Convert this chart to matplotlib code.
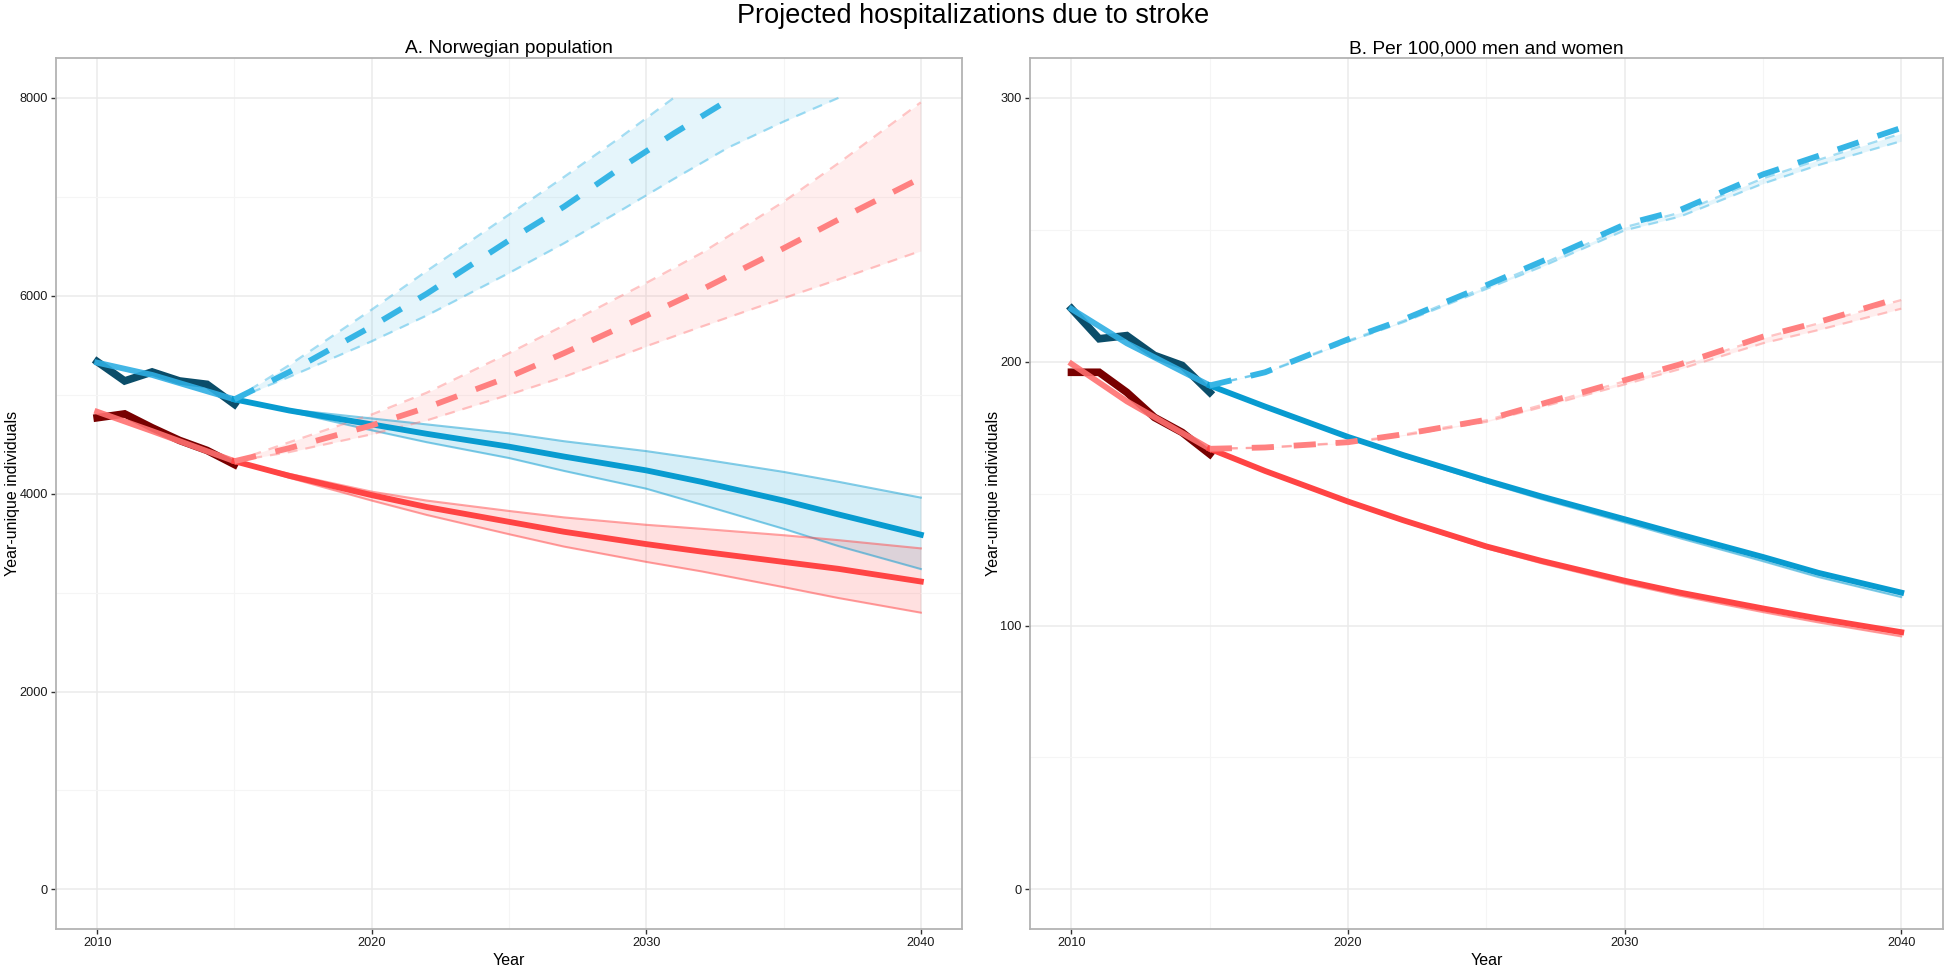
import numpy as np
import matplotlib
matplotlib.use("Agg")
import matplotlib.pyplot as plt

plt.rcParams["font.family"] = ["Liberation Sans", "DejaVu Sans"]
nan = np.nan

# observed 2010-2015
obs_years = [2010, 2011, 2012, 2013, 2014, 2015]
a_obs_men = [5334, 5139, 5230, 5139, 5105, 4903]
a_obs_women = [4767, 4806, 4666, 4538, 4437, 4295]
b_obs_men = [220.1, 208.7, 209.9, 202.4, 198.6, 188.4]
b_obs_women = [196.0, 196.0, 188.4, 178.9, 173.2, 165.0]

# fitted 2010-2015
fit_years = [2010, 2012, 2015]
a_men_fit = [5324, 5200, 4953]
a_women_fit = [4828, 4632, 4328]
b_men_fit = [220, 207, 191]
b_women_fit = [199.2, 185, 167]

# projections
proj_years = [2015, 2017, 2020, 2022, 2025, 2027, 2030, 2032, 2035, 2037, 2040]
a_men_solid = [4953, 4840, 4700, 4605, 4475, 4375, 4235, 4120, 3930, 3790, 3585]
a_men_solid_hi = [4953, 4850, 4760, 4700, 4610, 4530, 4430, 4350, 4220, 4120, 3960]
a_men_solid_lo = [4953, 4830, 4640, 4520, 4360, 4230, 4050, 3890, 3645, 3470, 3238]
a_women_solid = [4328, 4180, 3985, 3865, 3715, 3615, 3490, 3415, 3310, 3240, 3112]
a_women_solid_hi = [4328, 4200, 4020, 3930, 3825, 3760, 3685, 3645, 3580, 3530, 3447]
a_women_solid_lo = [4328, 4160, 3930, 3785, 3590, 3465, 3310, 3215, 3055, 2945, 2797]
a_women_dash = [4328, 4460, 4690, 4870, 5180, 5420, 5800, 6060, 6480, 6770, 7190]
a_women_dash_hi = [4328, 4520, 4800, 5020, 5420, 5700, 6130, 6430, 6950, 7340, 7955]
a_women_dash_lo = [4328, 4420, 4600, 4740, 5000, 5180, 5490, 5687, 5975, 6165, 6453]

# men, demographic scenario (cut at 8000)
a_dash_years = [2015, 2017, 2020, 2022, 2025, 2027, 2029, 2031, 2033, 2035, 2037]
a_men_dash = [4953, 5230, 5690, 6020, 6560, 6900, 7280, 7640, 7980, nan, nan]
a_men_dash_hi = [4953, 5300, 5860, 6250, 6820, 7200, 7590, 8000, nan, nan, nan]
a_men_dash_lo = [4953, 5180, 5540, 5800, 6230, 6530, 6850, 7180, 7500, 7760, 8000]

b_men_solid = [191, 183, 171.5, 164.6, 155, 148.9, 140.3, 134.5, 126, 120, 112.5]
b_men_solid_hi = [191, 183, 171.5, 164.6, 155, 148.9, 140.3, 134.5, 126.2, 120.3, 112.9]
b_men_solid_lo = [191, 182.8, 171.1, 164, 154.2, 147.9, 139.1, 133.1, 124.4, 118.4, 110.8]
b_women_solid = [167, 158.6, 147, 139.9, 130, 124.5, 117, 112.5, 106.5, 102.7, 97.5]
b_women_solid_hi = [167, 158.6, 147, 139.9, 130, 124.5, 117, 112.5, 106.6, 102.9, 97.8]
b_women_solid_lo = [167, 158.4, 146.6, 139.4, 129.3, 123.6, 115.9, 111.3, 105.1, 101.2, 95.9]
b_men_dash = [191, 196, 208.5, 216, 229, 238, 252, 257.5, 271, 278, 288.6]
b_men_dash_hi = [191, 196, 208, 215.5, 228.5, 237, 251, 256.5, 269.5, 276.5, 286.5]
b_men_dash_lo = [191, 195.8, 207.6, 215, 227.6, 236, 249.8, 255, 267.5, 274.5, 283.6]
b_women_dash = [167, 167.5, 169.5, 172.5, 178, 184, 193, 199, 209.5, 215, 224.4]
b_women_dash_hi = [167, 167.5, 169.4, 172.4, 177.8, 183.6, 192.6, 198.5, 209, 214.5, 223.4]
b_women_dash_lo = [167, 167.4, 169.2, 172, 177.2, 182.8, 191.4, 197.2, 207, 212, 220.1]

c_men, c_men_fit, c_men_dash, c_men_obs = "#089bd0", "#2eaee3", "#36b5e5", "#0b4d69"
c_wom, c_wom_fit, c_wom_dash, c_wom_obs = "#ff4444", "#ff7070", "#ff8080", "#780000"

LW = 4.2
dash_big = (3.8, 3.4)
dash_small = (4.5, 3.6)


def band_solid(ax, x, mid, hi, lo, col):
    ax.fill_between(x, lo, hi, color=col, alpha=0.165, lw=0)
    ax.plot(x, hi, color=col, alpha=0.5, lw=1.5)
    ax.plot(x, lo, color=col, alpha=0.5, lw=1.5)


def band_dash(ax, x, mid, hi, lo, col, cap=None):
    hi_f = np.array(hi, dtype=float)
    lo_f = np.array(lo, dtype=float)
    if cap is not None:
        hi_f = np.nan_to_num(hi_f, nan=cap)
        lo_f = np.nan_to_num(lo_f, nan=cap)
    ax.fill_between(x, lo_f, hi_f, color=col, alpha=0.13, lw=0)
    ax.plot(x, hi, color=col, alpha=0.45, lw=1.6, dashes=dash_small)
    ax.plot(x, lo, color=col, alpha=0.45, lw=1.6, dashes=dash_small)


def style(ax, ymaj, ymin, ylim, title):
    ax.set_xlim(2008.5, 2041.5)
    ax.set_ylim(*ylim)
    ax.set_xticks([2010, 2020, 2030, 2040])
    ax.set_xticks([2015, 2025, 2035], minor=True)
    ax.set_yticks(ymaj)
    ax.set_yticks(ymin, minor=True)
    ax.grid(which="major", color="#ebebeb", lw=1.1)
    ax.grid(which="minor", color="#f5f5f5", lw=0.8)
    ax.set_axisbelow(True)
    for s in ax.spines.values():
        s.set_color("#b3b3b3")
        s.set_linewidth(1.3)
    ax.tick_params(which="major", length=3.5, width=1, color="#333333",
                   labelsize=9.2, labelcolor="#1a1a1a", pad=2.5)
    ax.tick_params(which="minor", length=0)
    ax.set_xlabel("Year", fontsize=11.5, labelpad=2.5)
    ax.set_ylabel("Year-unique individuals", fontsize=11.5, labelpad=-0.5)
    ax.set_title(title, fontsize=13.8, pad=3.8)


fig = plt.figure(figsize=(19.46, 9.67), dpi=100)
ax1 = fig.add_axes([56 / 1946, 1 - 929 / 967, 906 / 1946, 870.7 / 967])
ax2 = fig.add_axes([1030 / 1946, 1 - 929 / 967, 912.7 / 1946, 870.7 / 967])

# panel A
band_solid(ax1, proj_years, a_men_solid, a_men_solid_hi, a_men_solid_lo, c_men)
band_solid(ax1, proj_years, a_women_solid, a_women_solid_hi, a_women_solid_lo, c_wom)
band_dash(ax1, proj_years, a_women_dash, a_women_dash_hi, a_women_dash_lo, c_wom_dash)
band_dash(ax1, a_dash_years, a_men_dash, a_men_dash_hi, a_men_dash_lo, c_men_dash, cap=8000)
ax1.plot(obs_years, a_obs_men, color=c_men_obs, lw=5.5, solid_joinstyle="miter")
ax1.plot(obs_years, a_obs_women, color=c_wom_obs, lw=5.5, solid_joinstyle="miter")
ax1.plot(fit_years, a_men_fit, color=c_men_fit, lw=LW, alpha=0.9)
ax1.plot(fit_years, a_women_fit, color=c_wom_fit, lw=LW, alpha=0.9)
ax1.plot(proj_years, a_men_solid, color=c_men, lw=LW)
ax1.plot(proj_years, a_women_solid, color=c_wom, lw=LW)
ax1.plot(proj_years, a_women_dash, color=c_wom_dash, lw=LW, dashes=dash_big)
ax1.plot(a_dash_years, a_men_dash, color=c_men_dash, lw=LW, dashes=dash_big)
style(ax1, [0, 2000, 4000, 6000, 8000], [1000, 3000, 5000, 7000], (-400, 8400),
      "A. Norwegian population")

# panel B
band_solid(ax2, proj_years, b_men_solid, b_men_solid_hi, b_men_solid_lo, c_men)
band_solid(ax2, proj_years, b_women_solid, b_women_solid_hi, b_women_solid_lo, c_wom)
band_dash(ax2, proj_years, b_women_dash, b_women_dash_hi, b_women_dash_lo, c_wom_dash)
band_dash(ax2, proj_years, b_men_dash, b_men_dash_hi, b_men_dash_lo, c_men_dash)
ax2.plot(obs_years, b_obs_men, color=c_men_obs, lw=5.5, solid_joinstyle="miter")
ax2.plot(obs_years, b_obs_women, color=c_wom_obs, lw=5.5, solid_joinstyle="miter")
ax2.plot(fit_years, b_men_fit, color=c_men_fit, lw=LW, alpha=0.9)
ax2.plot(fit_years, b_women_fit, color=c_wom_fit, lw=LW, alpha=0.9)
ax2.plot(proj_years, b_men_solid, color=c_men, lw=LW)
ax2.plot(proj_years, b_women_solid, color=c_wom, lw=LW)
ax2.plot(proj_years, b_women_dash, color=c_wom_dash, lw=LW, dashes=dash_big)
ax2.plot(proj_years, b_men_dash, color=c_men_dash, lw=LW, dashes=dash_big)
style(ax2, [0, 100, 200, 300], [50, 150, 250], (-15, 315),
      "B. Per 100,000 men and women")

fig.text(0.5, 1 - 16 / 967, "Projected hospitalizations due to stroke",
         ha="center", va="center", fontsize=19.5)

fig.savefig("out.png", dpi=100)
